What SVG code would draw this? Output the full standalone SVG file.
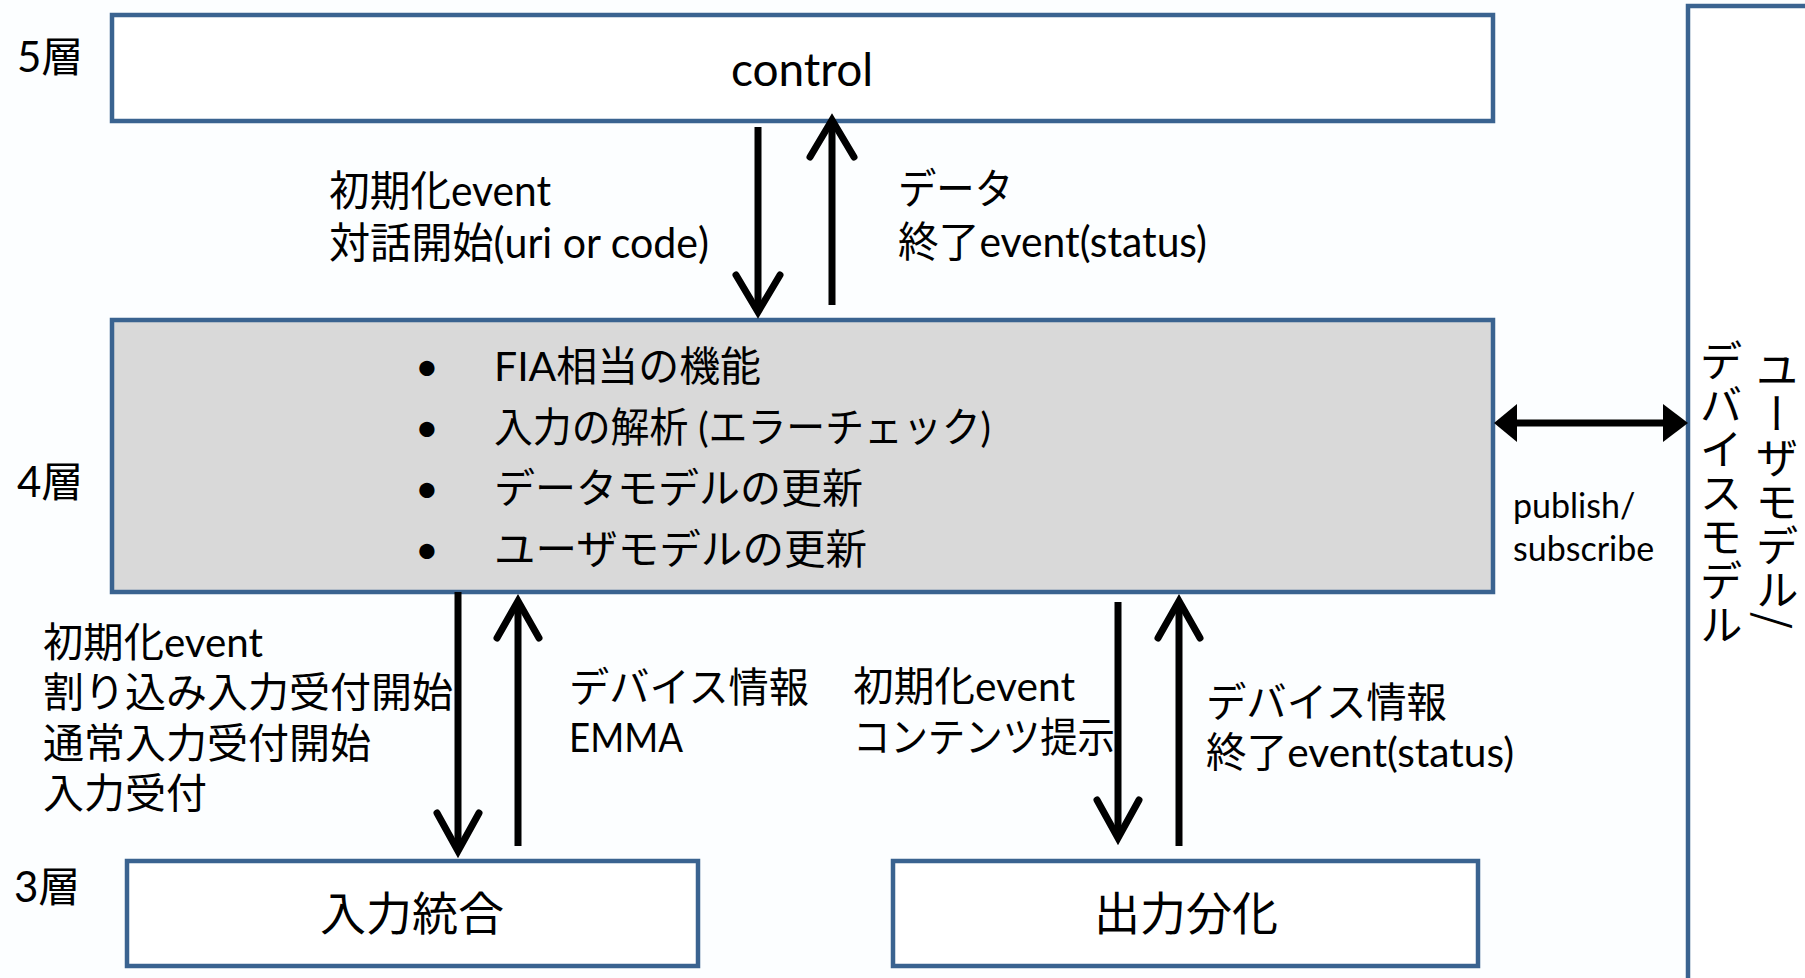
<svg xmlns="http://www.w3.org/2000/svg" width="1805" height="978" viewBox="0 0 1805 978">
  <style>
    .box { fill: #ffffff; stroke: #3a6390; stroke-width: 4.5; }
    .box4 { fill: #d9d9d9; stroke: #3a6390; stroke-width: 4.5; }
    .t { font-family: Lato, "Noto Sans CJK JP", sans-serif; fill: #000000; }
    .lbl { font-size: 42px; }
    .lbl41 { font-size: 41px; }
    .title { font-size: 46px; text-anchor: middle; }
    .layer { font-size: 42px; }
    .small { font-size: 34px; }
    .vert { font-size: 43px; writing-mode: vertical-rl; text-anchor: middle; letter-spacing: 1px; font-family: "Noto Sans CJK JP", sans-serif; }
    .shaft { stroke: #000000; stroke-width: 7; fill: none; stroke-linecap: butt; }
    .head { stroke: #000000; stroke-width: 7; fill: none; stroke-linecap: round; stroke-linejoin: miter; stroke-miterlimit: 10; }
  </style>

  <rect x="0" y="0" width="1805" height="978" fill="#fcfeff"/>

  <!-- layer labels -->
  <g id="layer-labels">
    <text class="t layer" x="17" y="72">5層</text>
    <text class="t layer" x="17" y="497">4層</text>
    <text class="t layer" x="14" y="902">3層</text>
  </g>

  <!-- layer 5: control -->
  <g id="control">
    <rect class="box" x="112" y="15" width="1381" height="106"/>
    <text class="t title" x="802" y="86">control</text>
  </g>

  <!-- layer 4: dialogue management -->
  <g id="layer4">
    <rect class="box4" x="112" y="320" width="1381" height="272"/>
    <g class="t lbl41">
      <text x="427" y="381" text-anchor="middle">•</text>
      <text x="427" y="442" text-anchor="middle">•</text>
      <text x="427" y="503" text-anchor="middle">•</text>
      <text x="427" y="564" text-anchor="middle">•</text>
      <text x="494" y="381" textLength="267" lengthAdjust="spacingAndGlyphs">FIA相当の機能</text>
      <text x="494" y="442" textLength="497" lengthAdjust="spacingAndGlyphs">入力の解析 (エラーチェック)</text>
      <text x="494" y="503">データモデルの更新</text>
      <text x="494" y="564" textLength="373" lengthAdjust="spacingAndGlyphs">ユーザモデルの更新</text>
    </g>
  </g>

  <!-- user / device model store -->
  <g id="models">
    <rect class="box" x="1688" y="6" width="200" height="1000"/>
    <text class="t vert" x="1777" y="489">ユーザモデル/</text>
    <text class="t vert" x="1721" y="493">デバイスモデル</text>
  </g>

  <!-- layer 3: input integration -->
  <g id="input-integration">
    <rect class="box" x="127" y="861" width="571" height="105"/>
    <text class="t title" x="412" y="930">入力統合</text>
  </g>

  <!-- layer 3: output distribution -->
  <g id="output-distribution">
    <rect class="box" x="893" y="861" width="585" height="105"/>
    <text class="t title" x="1186" y="930">出力分化</text>
  </g>

  <!-- connectors -->
  <g id="connectors">
    <!-- control -> layer 4 -->
    <line class="shaft" x1="758" y1="127" x2="758" y2="312"/>
    <polyline class="head" points="736,275 758,312 780,275"/>
    <!-- layer 4 -> control -->
    <line class="shaft" x1="832" y1="305" x2="832" y2="120"/>
    <polyline class="head" points="810,157 832,120 854,157"/>

    <!-- layer 4 -> input integration -->
    <line class="shaft" x1="458" y1="592" x2="458" y2="851"/>
    <polyline class="head" points="437,813 458,851 479,813"/>
    <!-- input integration -> layer 4 -->
    <line class="shaft" x1="518" y1="846" x2="518" y2="601"/>
    <polyline class="head" points="497,638 518,601 539,638"/>

    <!-- layer 4 -> output distribution -->
    <line class="shaft" x1="1118" y1="602" x2="1118" y2="838"/>
    <polyline class="head" points="1097,800 1118,838 1139,800"/>
    <!-- output distribution -> layer 4 -->
    <line class="shaft" x1="1179" y1="846" x2="1179" y2="601"/>
    <polyline class="head" points="1158,638 1179,601 1200,638"/>

    <!-- publish / subscribe link -->
    <line stroke="#000000" stroke-width="7" x1="1510" y1="423" x2="1670" y2="423"/>
    <polygon points="1494,423 1517,404 1517,442" fill="#000000"/>
    <polygon points="1688,423 1663,404 1663,442" fill="#000000"/>
  </g>

  <!-- connector labels -->
  <g id="connector-labels" class="t">
    <text class="lbl" x="329" y="206" textLength="222" lengthAdjust="spacingAndGlyphs">初期化event</text>
    <text class="lbl" x="329" y="258" textLength="380" lengthAdjust="spacingAndGlyphs">対話開始(uri or code)</text>

    <text class="lbl" x="898" y="204" textLength="115" lengthAdjust="spacingAndGlyphs">データ</text>
    <text class="lbl" x="898" y="257" textLength="309" lengthAdjust="spacingAndGlyphs">終了event(status)</text>

    <text class="small" x="1513" y="518">publish/</text>
    <text class="small" x="1513" y="561">subscribe</text>

    <text class="lbl41" x="43" y="657" textLength="220" lengthAdjust="spacingAndGlyphs">初期化event</text>
    <text class="lbl41" x="43" y="707" textLength="410" lengthAdjust="spacingAndGlyphs">割り込み入力受付開始</text>
    <text class="lbl41" x="43" y="758" textLength="328" lengthAdjust="spacingAndGlyphs">通常入力受付開始</text>
    <text class="lbl41" x="43" y="808">入力受付</text>

    <text class="lbl41" x="569" y="702" textLength="240" lengthAdjust="spacingAndGlyphs">デバイス情報</text>
    <text class="lbl41" x="569" y="752" textLength="114" lengthAdjust="spacingAndGlyphs">EMMA</text>

    <text class="lbl41" x="853" y="701" textLength="222" lengthAdjust="spacingAndGlyphs">初期化event</text>
    <text class="lbl41" x="853" y="752" textLength="262" lengthAdjust="spacingAndGlyphs">コンテンツ提示</text>

    <text class="lbl41" x="1206" y="717" textLength="241" lengthAdjust="spacingAndGlyphs">デバイス情報</text>
    <text class="lbl41" x="1206" y="767" textLength="308" lengthAdjust="spacingAndGlyphs">終了event(status)</text>
  </g>
</svg>
